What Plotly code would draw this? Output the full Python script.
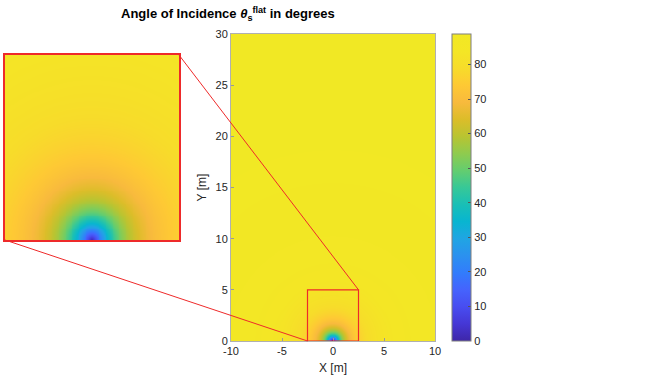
import numpy as np
import plotly.graph_objects as go

# ---- data ----
x_range_m = [-10.0, 10.0]
y_range_m = [0.0, 30.0]
zoom_x_m = [-2.5, 2.5]
zoom_y_m = [0.0, 5.0]
sensor_height_m = 0.65         # height above the flat surface (estimated)
x_ticks = [-10, -5, 0, 5, 10]
x_tick_labels = ["-10", "-5", "0", "5", "10"]
y_ticks = [0, 5, 10, 15, 20, 25, 30]
cbar_ticks = [0, 10, 20, 30, 40, 50, 60, 70, 80]

def incidence(xs, ys, h):
    X, Y = np.meshgrid(xs, ys)
    return np.degrees(np.arctan(np.hypot(X, Y) / h))

xs = np.arange(x_range_m[0], x_range_m[1] + 1e-9, 0.1)
ys = np.arange(y_range_m[0], y_range_m[1] + 1e-9, 0.1)
Z = incidence(xs, ys, sensor_height_m)
xs2 = np.linspace(zoom_x_m[0], zoom_x_m[1], 201)
ys2 = np.linspace(zoom_y_m[0], zoom_y_m[1], 201)
Z2 = incidence(xs2, ys2, sensor_height_m)
zmax = float(Z.max())

# parula-like colour map (style)
parula_rgb = [
    (0.2422, 0.1504, 0.6603), (0.2706, 0.2147, 0.8364), (0.2813, 0.3006, 0.9414),
    (0.2699, 0.3892, 0.9906), (0.1963, 0.4847, 0.9892), (0.1687, 0.5703, 0.9359),
    (0.1248, 0.6459, 0.8883), (0.0297, 0.7082, 0.8163), (0.0964, 0.7500, 0.7120),
    (0.2161, 0.7843, 0.5923), (0.3909, 0.8029, 0.4354), (0.5616, 0.7942, 0.3045),
    (0.7242, 0.7698, 0.1910), (0.8634, 0.7406, 0.1596), (0.9728, 0.7298, 0.2394),
    (0.9952, 0.7893, 0.2028), (0.9676, 0.8639, 0.1643), (0.9550, 0.9000, 0.1450),
    (0.9450, 0.9100, 0.1400),
]
n = len(parula_rgb)
parula = [[i / (n - 1), "rgb(%d,%d,%d)" % tuple(int(round(c * 255)) for c in rgb)]
          for i, rgb in enumerate(parula_rgb)]

W, H = 646, 385
px = lambda v: v / W
py = lambda v: 1 - v / H
main_x = [px(231), px(435)]
main_y = [py(341), py(34)]
ins_x = [px(5), px(179)]
ins_y = [py(240), py(55)]

fig = go.Figure()
fig.add_trace(go.Heatmap(x=xs, y=ys, z=Z, colorscale=parula, zmin=0, zmax=zmax,
                         xaxis="x", yaxis="y", showscale=True, hoverinfo="skip",
                         colorbar=dict(x=px(452), xanchor="left", y=(main_y[0] + main_y[1]) / 2,
                                       yanchor="middle", len=307, lenmode="pixels",
                                       thickness=19, thicknessmode="pixels", xpad=0, ypad=0,
                                       outlinewidth=1, outlinecolor="#7f7f7f",
                                       tickvals=cbar_ticks, ticks="inside", ticklen=3,
                                       tickcolor="#555", tickfont=dict(size=11, color="#262626"))))
fig.add_trace(go.Heatmap(x=xs2, y=ys2, z=Z2, colorscale=parula, zmin=0, zmax=zmax,
                         xaxis="x2", yaxis="y2", showscale=False, hoverinfo="skip"))

def to_paper_x(v):
    return main_x[0] + (v - x_range_m[0]) / (x_range_m[1] - x_range_m[0]) * (main_x[1] - main_x[0])

def to_paper_y(v):
    return main_y[0] + (v - y_range_m[0]) / (y_range_m[1] - y_range_m[0]) * (main_y[1] - main_y[0])

red = "#ee2a2a"
shapes = [
    dict(type="rect", xref="x", yref="y", x0=zoom_x_m[0], x1=zoom_x_m[1], y0=zoom_y_m[0], y1=zoom_y_m[1],
         line=dict(color=red, width=1.2)),
    dict(type="line", xref="paper", yref="paper", x0=ins_x[1], y0=ins_y[1],
         x1=to_paper_x(zoom_x_m[1]), y1=to_paper_y(zoom_y_m[1]), line=dict(color=red, width=1)),
    dict(type="line", xref="paper", yref="paper", x0=ins_x[0], y0=ins_y[0],
         x1=to_paper_x(zoom_x_m[0]), y1=to_paper_y(zoom_y_m[0]), line=dict(color=red, width=1)),
]

axfont = dict(family="Liberation Sans, Arial, sans-serif", size=11, color="#262626")
fig.update_layout(
    width=W, height=H, margin=dict(l=0, r=0, t=0, b=0, autoexpand=False),
    paper_bgcolor="white", plot_bgcolor="white",
    font=dict(family="Liberation Sans, Arial, sans-serif", size=11, color="#262626"),
    xaxis=dict(domain=main_x, range=x_range_m, tickvals=x_ticks, ticktext=x_tick_labels,
               ticks="inside", ticklen=3, tickcolor="#999",
               showline=True, linecolor="#b0b0b0", mirror=True, showgrid=False, zeroline=False,
               title=dict(text="X [m]", font=dict(size=12), standoff=7), tickfont=axfont),
    yaxis=dict(domain=main_y, range=y_range_m, tickvals=y_ticks, ticks="inside", ticklen=3,
               tickcolor="#999",
               showline=True, linecolor="#b0b0b0", mirror=True, showgrid=False, zeroline=False,
               title=dict(text="Y [m]", font=dict(size=12), standoff=6), tickfont=axfont),
    xaxis2=dict(domain=ins_x, range=zoom_x_m, anchor="y2", showticklabels=False, ticks="",
                showline=True, linecolor=red, linewidth=1.5, mirror=True, showgrid=False, zeroline=False),
    yaxis2=dict(domain=ins_y, range=zoom_y_m, anchor="x2", showticklabels=False, ticks="",
                showline=True, linecolor=red, linewidth=1.5, mirror=True, showgrid=False, zeroline=False),
    shapes=shapes,
    annotations=[dict(text="<b>Angle of Incidence <i>θ</i><sub>s</sub><sup>flat</sup> in degrees</b>",
                      xref="paper", yref="paper", x=px(228), y=py(14), xanchor="center", yanchor="middle",
                      showarrow=False, font=dict(size=13, color="#000"))],
)
fig.write_html("out.html", config={"displayModeBar": False},
               post_script="document.body.style.margin='0';")
